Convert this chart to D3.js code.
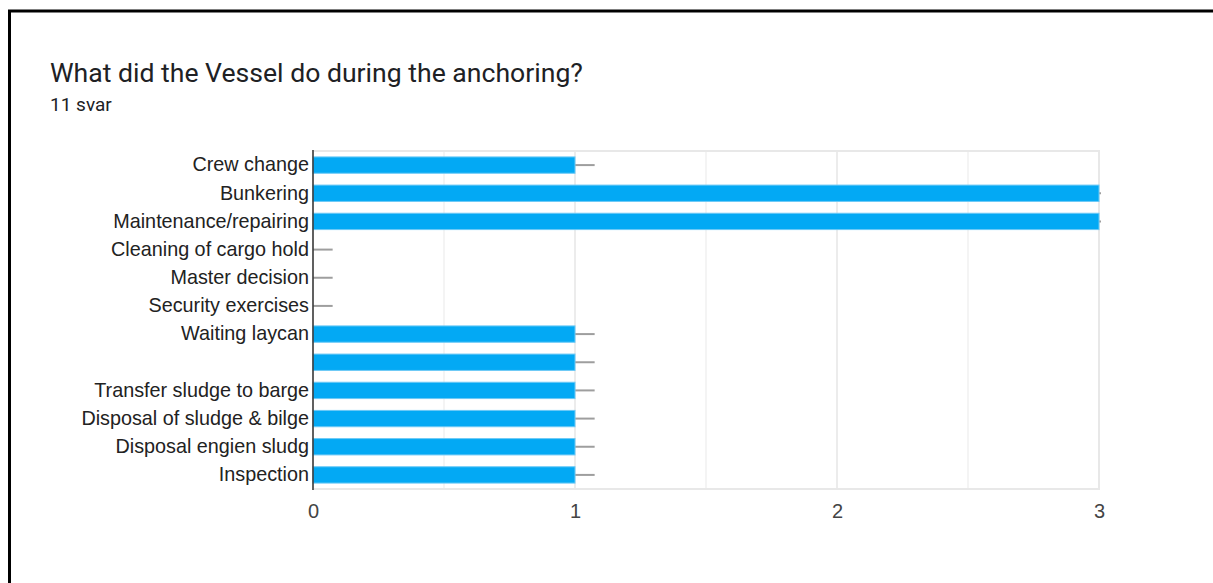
<!DOCTYPE html>
<html>
<head>
<meta charset="utf-8">
<script src="https://cdn.jsdelivr.net/npm/d3@7"></script>
<style>
    html, body { margin: 0; padding: 0; background: #fff; }
    svg { display: block; }
</style>
</head>
<body>
<div class="graph"></div>
<script>
// data ------------------
const categories = [
    'Crew change',
    'Bunkering',
    'Maintenance/repairing',
    'Cleaning of cargo hold',
    'Master decision',
    'Security exercises',
    'Waiting laycan',
    '',
    'Transfer sludge to barge',
    'Disposal of sludge & bilge',
    'Disposal engien sludg',
    'Inspection'
]
const counts = [1, 3, 3, 0, 0, 0, 1, 1, 1, 1, 1, 1]
const xTicks = [0, 1, 2, 3]
const gridValues = [0.5, 1, 1.5, 2, 2.5]
const title = 'What did the Vessel do during the anchoring?'
const subtitle = '11 svar'

const rows = categories.map((c, i) => ({ key: i, name: c, value: counts[i] }))

// config
const w = 1213
const h = 583
const margin = { left: 313, right: 114, top: 151, bottom: 94 }
const colours = {
    bar: '#03a9f4',
    barEdge: '#6cc9f6',
    whisker: '#9e9e9e',
    text: '#222'
}

// scales
const xScale = d3.scaleLinear()
    .domain([0, 3])
    .range([margin.left, w - margin.right])

const yScale = d3.scaleBand()
    .domain(rows.map(d => d.key))
    .range([margin.top, h - margin.bottom])
    .paddingInner(0.42)
    .paddingOuter(0.21)

const svg = d3.select('.graph')
    .append('svg')
    .attr('width', w)
    .attr('height', h)

// frame of the screenshot
svg.append('path')
    .attr('d', 'M9.5,' + h + 'V11H' + w)
    .attr('fill', 'none')
    .attr('stroke', '#000')
    .attr('stroke-width', 3)

// titles
svg.append('text')
    .attr('x', 50)
    .attr('y', 82)
    .attr('font-family', 'Roboto, sans-serif')
    .attr('font-size', 26.6)
    .attr('fill', '#202124')
    .text(title)

svg.append('text')
    .attr('x', 50)
    .attr('y', 111)
    .attr('font-family', 'Roboto, sans-serif')
    .attr('font-size', 19)
    .attr('fill', '#202124')
    .text(subtitle)

// grid
const [y0, y1] = yScale.range()
svg.append('g')
    .selectAll('line.grid')
    .data(gridValues)
    .join('line')
    .attr('class', 'grid')
    .attr('x1', d => xScale(d))
    .attr('x2', d => xScale(d))
    .attr('y1', y0)
    .attr('y2', y1)
    .attr('stroke', d => Number.isInteger(d) ? '#e6e6e6' : '#f1f1f1')
    .attr('stroke-width', 1.5)

svg.append('rect')
    .attr('x', xScale(0))
    .attr('y', y0)
    .attr('width', xScale(3) - xScale(0))
    .attr('height', y1 - y0)
    .attr('fill', 'none')
    .attr('stroke', '#e8e8e8')
    .attr('stroke-width', 2)

// clip for whiskers
svg.append('clipPath')
    .attr('id', 'plot-clip')
    .append('rect')
    .attr('x', xScale(0))
    .attr('y', y0)
    .attr('width', xScale(3) - xScale(0) + 2)
    .attr('height', y1 - y0)

// whiskers
svg.append('g')
    .attr('clip-path', 'url(#plot-clip)')
    .selectAll('line.whisker')
    .data(rows)
    .join('line')
    .attr('class', 'whisker')
    .attr('x1', d => xScale(d.value))
    .attr('x2', d => xScale(d.value + 0.075))
    .attr('y1', d => yScale(d.key) + yScale.bandwidth() / 2)
    .attr('y2', d => yScale(d.key) + yScale.bandwidth() / 2)
    .attr('stroke', colours.whisker)
    .attr('stroke-width', 2)

// bars
svg.append('g')
    .selectAll('rect.bar')
    .data(rows.filter(d => d.value > 0))
    .join('rect')
    .attr('class', 'bar')
    .attr('x', xScale(0))
    .attr('y', d => yScale(d.key))
    .attr('width', d => xScale(d.value) - xScale(0))
    .attr('height', yScale.bandwidth())
    .attr('fill', colours.bar)
    .attr('stroke', colours.barEdge)
    .attr('stroke-width', 1)

// y axis
const yAxis = d3.axisLeft(yScale)
    .tickSize(0)
    .tickPadding(4)
    .tickFormat(k => categories[k])

const gy = svg.append('g')
    .attr('transform', 'translate(' + xScale(0) + ',0)')
    .call(yAxis)
gy.select('.domain')
    .attr('stroke', '#333')
    .attr('stroke-width', 1.5)
    .attr('d', 'M0,' + (y0 - 1) + 'V' + (y1 + 1))
gy.selectAll('text')
    .attr('font-family', 'Arial, "Liberation Sans", sans-serif')
    .attr('font-size', 19.8)
    .attr('fill', colours.text)

// x axis
const xAxis = d3.axisBottom(xScale)
    .tickValues(xTicks)
    .tickSize(0)
    .tickPadding(15)
    .tickFormat(d3.format('d'))

const gx = svg.append('g')
    .attr('transform', 'translate(0,' + y1 + ')')
    .call(xAxis)
gx.select('.domain').remove()
gx.selectAll('text')
    .attr('font-family', 'Arial, "Liberation Sans", sans-serif')
    .attr('font-size', 20)
    .attr('fill', '#444')
</script>
</body>
</html>
